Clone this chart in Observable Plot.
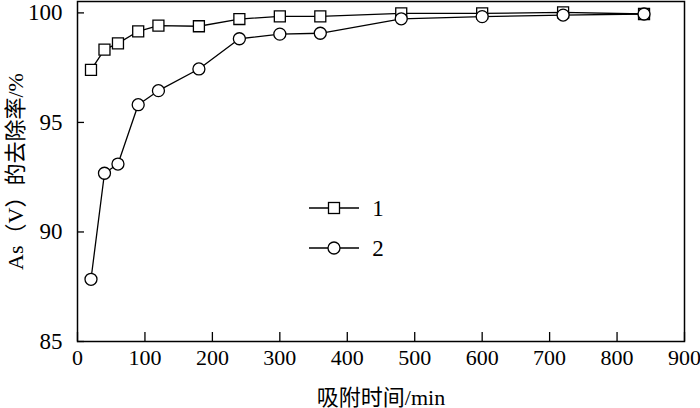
<!DOCTYPE html>
<html>
<head>
<meta charset="utf-8">
<script src="https://cdn.jsdelivr.net/npm/d3@7"></script>
<script src="https://cdn.jsdelivr.net/npm/@observablehq/plot@0.6"></script>
<style>
  html, body { margin: 0; padding: 0; background: #fff; }
</style>
</head>
<body>
<div id="chart"></div>
<script>
const times = [20, 40, 60, 90, 120, 180, 240, 300, 360, 480, 600, 720, 840];
const series1 = [97.4, 98.32, 98.61, 99.16, 99.42, 99.39, 99.72, 99.84, 99.84, 99.98, 99.98, 100.02, 99.95];
const series2 = [87.84, 92.68, 93.1, 95.81, 96.45, 97.44, 98.82, 99.03, 99.07, 99.73, 99.83, 99.9, 99.95];
const seriesNames = ["1", "2"];
const xTicks = [0, 100, 200, 300, 400, 500, 600, 700, 800, 900];
const yTicks = [85, 90, 95, 100];
const xLabel = "吸附时间/min";
const yLabel = "As（V）的去除率/%";

const data1 = times.map((t, i) => ({t, v: series1[i]}));
const data2 = times.map((t, i) => ({t, v: series2[i]}));

const W = 700, H = 408;
const mL = 77, mR = 16, mT = 1, mB = 67;
const innerW = W - mL - mR, innerH = H - mT - mB;
const font = '"Liberation Serif", "Noto Sans CJK SC", serif';

const chart = Plot.plot({
  width: W,
  height: H,
  marginLeft: mL,
  marginRight: mR,
  marginTop: mT,
  marginBottom: mB,
  style: {fontFamily: font, fontSize: "22px", color: "#000", background: "#fff", overflow: "visible"},
  x: {domain: [0, 900]},
  y: {domain: [85, 100.52]},
  marks: [
    Plot.axisX({ticks: xTicks, tickSize: 0, tickPadding: 8, fontSize: 22, tickFormat: d => String(d), label: null}),
    Plot.axisY({ticks: yTicks, tickSize: 0, tickPadding: 15, fontSize: 23, tickFormat: d => String(d), label: null}),
    Plot.tickX(xTicks, {x: d => d, insetTop: innerH - 9, stroke: "#000", strokeWidth: 1.3}),
    Plot.tickY(yTicks, {y: d => d, insetRight: innerW - 7, stroke: "#000", strokeWidth: 1.3}),
    Plot.frame({stroke: "#000", strokeWidth: 1.5}),
    Plot.text([yLabel], {frameAnchor: "left", textAnchor: "middle", lineAnchor: "middle", rotate: -90, dx: -62, fontSize: 22, fill: "#000"}),
    Plot.text([xLabel], {frameAnchor: "bottom", textAnchor: "middle", lineAnchor: "middle", dy: 56, fontSize: 22, fill: "#000"}),
    Plot.line(data1, {x: "t", y: "v", stroke: "#000", strokeWidth: 1.3}),
    Plot.dot(data1, {x: "t", y: "v", symbol: "square", r: 6.2, fill: "#fff", stroke: "#000", strokeWidth: 1.3}),
    Plot.line(data2, {x: "t", y: "v", stroke: "#000", strokeWidth: 1.3}),
    Plot.dot(data2, {x: "t", y: "v", symbol: "circle", r: 6, fill: "#fff", stroke: "#000", strokeWidth: 1.3})
  ]
});

// Legend
const svg = d3.select(chart);
const legend = svg.append("g").attr("font-family", font).attr("font-size", 23);
const rows = [{name: seriesNames[0], sym: "square", y: 208}, {name: seriesNames[1], sym: "circle", y: 248}];
rows.forEach(r => {
  legend.append("line").attr("x1", 309).attr("x2", 359).attr("y1", r.y).attr("y2", r.y)
    .attr("stroke", "#000").attr("stroke-width", 1.3);
  if (r.sym === "square") {
    legend.append("rect").attr("x", 334 - 5.5).attr("y", r.y - 5.5).attr("width", 11).attr("height", 11)
      .attr("fill", "#fff").attr("stroke", "#000").attr("stroke-width", 1.3);
  } else {
    legend.append("circle").attr("cx", 334).attr("cy", r.y).attr("r", 6)
      .attr("fill", "#fff").attr("stroke", "#000").attr("stroke-width", 1.3);
  }
  legend.append("text").attr("x", 378).attr("y", r.y).attr("dy", "0.35em").attr("text-anchor", "middle")
    .attr("fill", "#000").text(r.name);
});

document.getElementById("chart").appendChild(chart);
</script>
</body>
</html>
